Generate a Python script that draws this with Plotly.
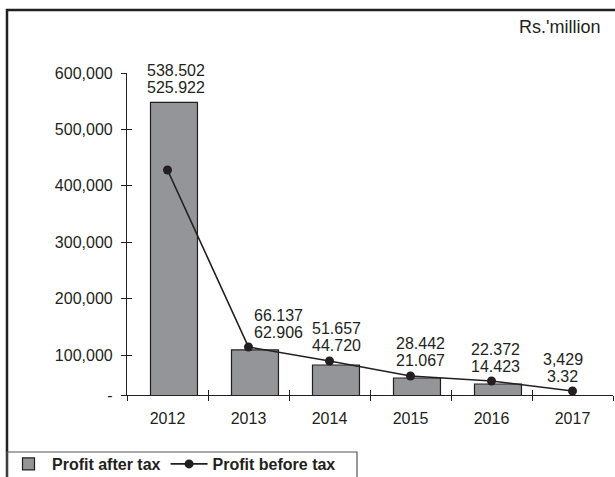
import plotly.graph_objects as go

# ---------------- data ----------------
years = ["2012", "2013", "2014", "2015", "2016", "2017"]
profit_after_tax = [548000, 109000, 82300, 59200, 48600, None]
profit_before_tax = [428000, 114200, 89400, 62800, 53900, 36200]
label_top = ["538.502", "66.137", "51.657", "28.442", "22.372", "3,429"]
label_bottom = ["525.922", "62.906", "44.720", "21.067", "14.423", "3.32"]
y_tick_vals = [100000, 200000, 300000, 400000, 500000, 600000]
y_tick_text = ["100,000", "200,000", "300,000", "400,000", "500,000", "600,000"]
y_floor = 29100  # value at which the category axis crosses (shown as "-")
unit_label = "Rs.'million"

# ---------------- style / layout ----------------
W, H = 615, 477
L, R, T, B = 127, 2, 73, 82
PW, PH = W - L - R, H - T - B
FONT = "Arial, 'Liberation Sans', sans-serif"
INK = "#231f20"
label_xshift = [8, 30, 7, 10, 4, -10]


def px(xp):
    return (xp - L) / PW


def py(yp):
    return (H - B - yp) / PH


fig = go.Figure()
fig.add_trace(go.Bar(
    x=years, y=profit_after_tax, name="Profit after tax",
    width=0.58, offset=-0.21,
    marker=dict(color="#939598", line=dict(color=INK, width=1.2)),
))
fig.add_trace(go.Scatter(
    x=years, y=profit_before_tax, name="Profit before tax",
    mode="lines+markers",
    line=dict(color=INK, width=1.6),
    marker=dict(color=INK, size=9),
))
# invisible helper trace for the inner half of the cross tick marks
fig.add_trace(go.Scatter(
    x=years, y=[None] * len(years), xaxis="x2", yaxis="y2",
    showlegend=False, hoverinfo="skip", mode="markers",
))

all_tick_vals = [y_floor] + y_tick_vals
all_tick_text = ["-"] + y_tick_text

for i, yr in enumerate(years):
    vals = [v for v in (profit_after_tax[i], profit_before_tax[i]) if v is not None]
    anchor = max(vals)
    fig.add_annotation(x=i, y=anchor, text=label_bottom[i], showarrow=False,
                       xshift=label_xshift[i], yshift=15, yanchor="middle",
                       font=dict(family=FONT, size=16, color=INK))
    fig.add_annotation(x=i, y=anchor, text=label_top[i], showarrow=False,
                       xshift=label_xshift[i], yshift=32, yanchor="middle",
                       font=dict(family=FONT, size=16, color=INK))

fig.add_annotation(xref="paper", yref="paper", x=px(602), y=py(27),
                   xanchor="right", yanchor="middle", text=unit_label,
                   showarrow=False, font=dict(family=FONT, size=18, color=INK))

# outer frame
fig.add_shape(type="rect", xref="paper", yref="paper",
              x0=px(7), x1=px(640), y0=py(500), y1=py(10),
              line=dict(color=INK, width=2.5), layer="below")
# legend frame
fig.add_shape(type="rect", xref="paper", yref="paper",
              x0=px(7), x1=px(357), y0=py(500), y1=py(452),
              line=dict(color="#555555", width=1.2), layer="below")

fig.update_layout(
    width=W, height=H,
    margin=dict(l=L, r=R, t=T, b=B, autoexpand=False),
    paper_bgcolor="white", plot_bgcolor="white",
    font=dict(family=FONT, size=16, color=INK),
    xaxis=dict(
        type="category", categoryorder="array", categoryarray=years,
        range=[-0.5, 5.5], showgrid=False, zeroline=False,
        showline=True, linecolor=INK, linewidth=1.2,
        ticks="outside", tickson="boundaries", ticklen=5, tickwidth=1.2,
        tickcolor=INK, ticklabelstandoff=9,
        tickfont=dict(family=FONT, size=16, color=INK),
    ),
    xaxis2=dict(
        type="category", categoryorder="array", categoryarray=years,
        overlaying="x", matches="x", range=[-0.5, 5.5],
        showgrid=False, zeroline=False, showline=False,
        ticks="inside", tickson="boundaries", ticklen=5, tickwidth=1.2,
        tickcolor=INK, showticklabels=False,
    ),
    yaxis=dict(
        range=[y_floor, 600000], showgrid=False, zeroline=False,
        showline=True, linecolor=INK, linewidth=1.2,
        tickmode="array", tickvals=all_tick_vals, ticktext=all_tick_text,
        ticks="outside", ticklen=5, tickwidth=1.2, tickcolor=INK,
        ticklabelstandoff=5,
        tickfont=dict(family=FONT, size=16, color=INK),
    ),
    yaxis2=dict(
        overlaying="y", matches="y", range=[y_floor, 600000],
        showgrid=False, zeroline=False, showline=False,
        tickmode="array", tickvals=all_tick_vals,
        ticks="inside", ticklen=5, tickwidth=1.2, tickcolor=INK,
        showticklabels=False,
    ),
    showlegend=True,
    legend=dict(
        orientation="h", x=px(5), xanchor="left", y=py(447), yanchor="top",
        bgcolor="rgba(0,0,0,0)", borderwidth=0,
        font=dict(family=FONT, size=16, color=INK, weight="bold"),
        itemwidth=37, tracegroupgap=0,
    ),
)

fig.write_html("out.html",
               config={"displayModeBar": False},
               post_script="document.body.style.margin='0';document.body.style.overflow='hidden';")
